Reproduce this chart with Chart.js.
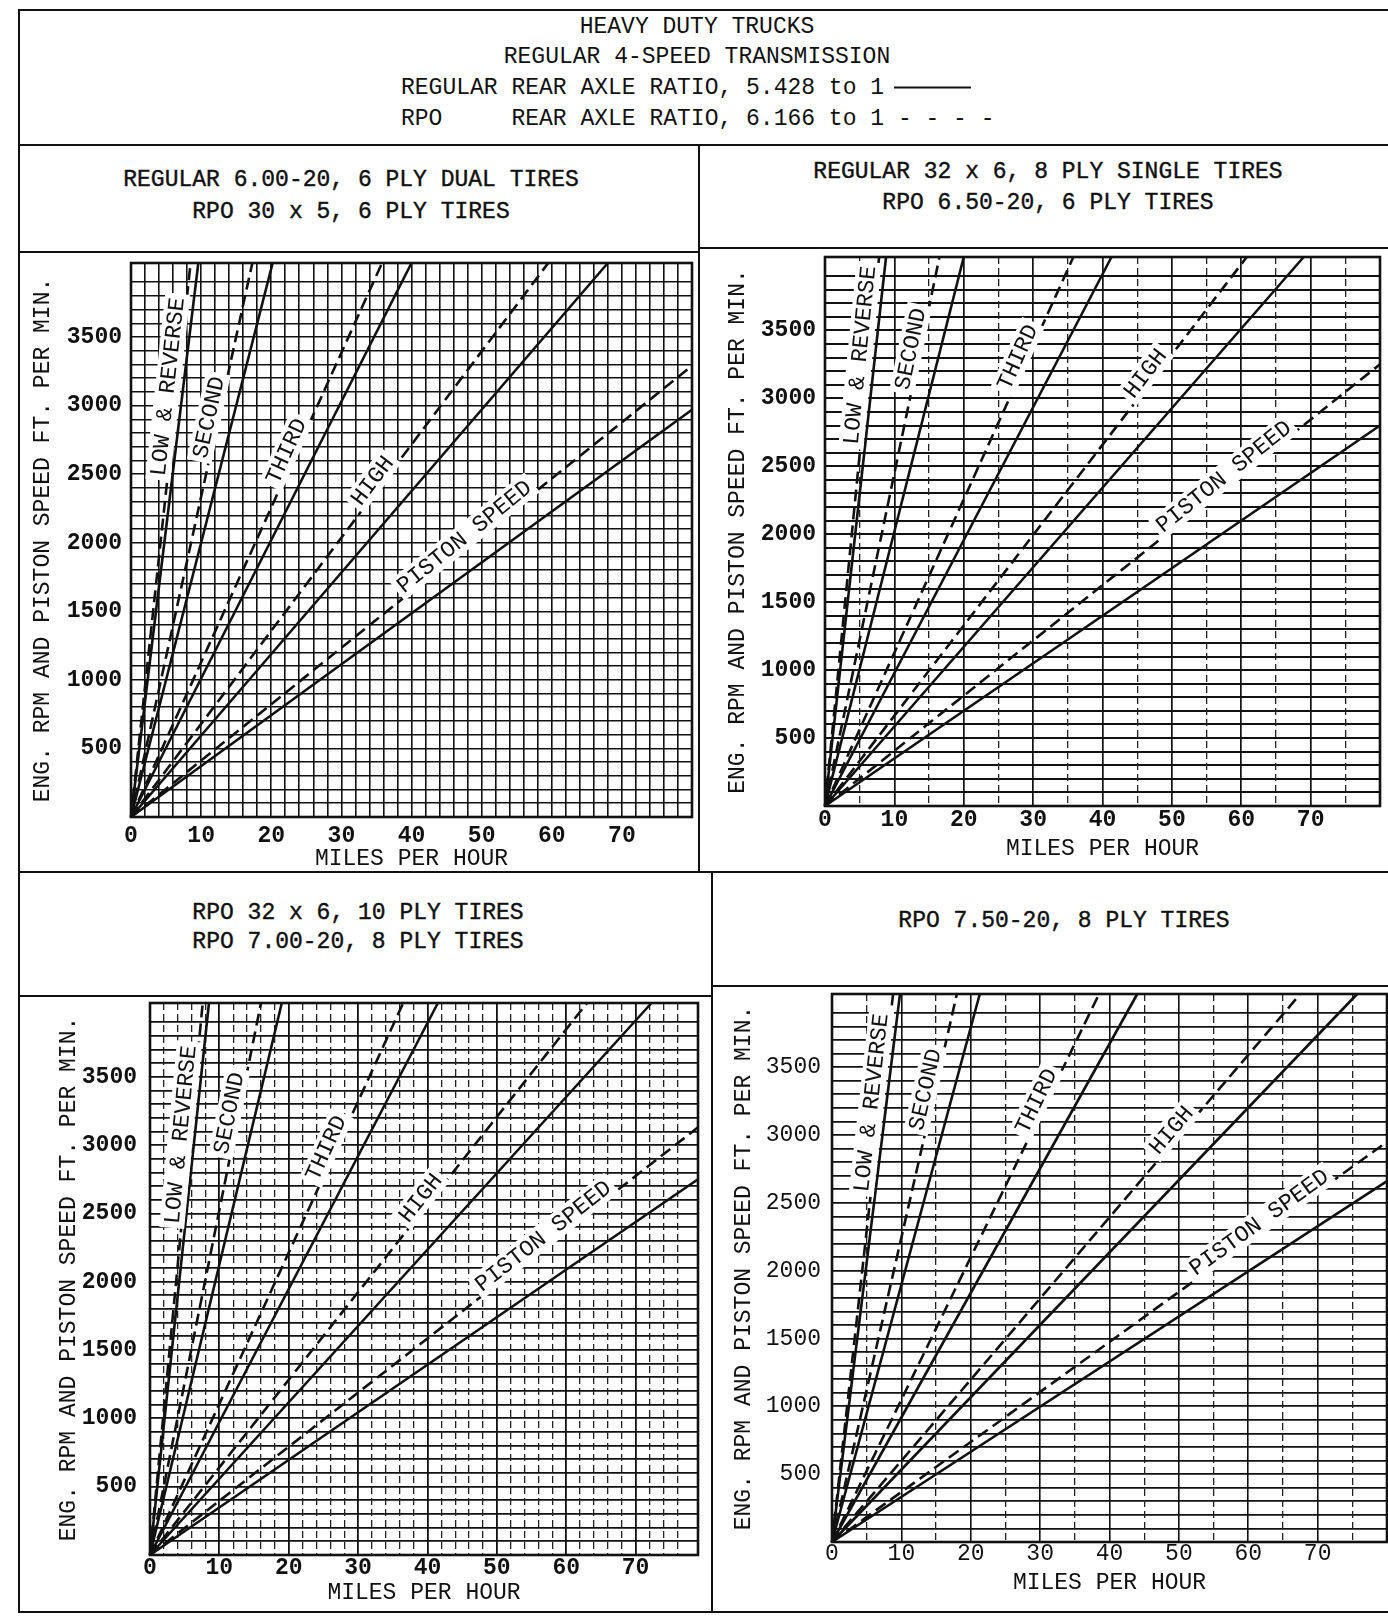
<!DOCTYPE html>
<html>
<head>
<meta charset="utf-8">
<title>Heavy Duty Trucks - engine speed charts</title>
<script src="https://cdn.jsdelivr.net/npm/chart.js@4.4.1/dist/chart.umd.min.js"></script>
<style>
  body { margin: 0; background: #fff; width: 1388px; height: 1619px; position: relative; overflow: hidden;
         font-family: "Liberation Mono", "DejaVu Sans Mono", monospace; color: #111; }
  .ln { position: absolute; background: #111; }
  .tx { position: absolute; font-size: 23px; line-height: 1; white-space: pre; transform: translate(-50%, -50%); }
  .tx.pt { -webkit-text-stroke: 0.4px #111; }
  .tl { position: absolute; font-size: 23px; line-height: 1; white-space: pre; transform: translateY(-50%); }
  .key { display: inline-block; width: 77px; border-top: 2px solid #111; vertical-align: middle; margin-left: 10px; }
  canvas { position: absolute; }
</style>
</head>
<body>

<!-- frame -->
<div class="ln" style="left:18px;top:9px;width:1370px;height:2px"></div>
<div class="ln" style="left:18px;top:9px;width:2px;height:1604px"></div>
<div class="ln" style="left:18px;top:1611px;width:1370px;height:2px"></div>
<div class="ln" style="left:18px;top:144px;width:1370px;height:2px"></div>
<div class="ln" style="left:698px;top:144px;width:2px;height:729px"></div>
<div class="ln" style="left:18px;top:871px;width:1370px;height:2px"></div>
<div class="ln" style="left:711px;top:871px;width:2px;height:742px"></div>
<div class="ln" style="left:18px;top:251px;width:681px;height:2px"></div>
<div class="ln" style="left:698px;top:247px;width:690px;height:2px"></div>
<div class="ln" style="left:18px;top:995px;width:694px;height:2px"></div>
<div class="ln" style="left:711px;top:985px;width:677px;height:2px"></div>

<!-- header -->
<div class="tx" style="left:697px;top:27px">HEAVY DUTY TRUCKS</div>
<div class="tx" style="left:697px;top:57px">REGULAR 4-SPEED TRANSMISSION</div>
<div class="tl" style="left:401px;top:88px">REGULAR REAR AXLE RATIO, 5.428 to 1<span class="key"></span></div>
<div class="tl" style="left:401px;top:119px">RPO     REAR AXLE RATIO, 6.166 to 1 - - - -</div>

<!-- panel titles -->
<div class="tx pt" style="left:351px;top:180px">REGULAR 6.00-20, 6 PLY DUAL TIRES</div>
<div class="tx pt" style="left:351px;top:212px">RPO 30 x 5, 6 PLY TIRES</div>
<div class="tx pt" style="left:1048px;top:172px">REGULAR 32 x 6, 8 PLY SINGLE TIRES</div>
<div class="tx pt" style="left:1048px;top:203px">RPO 6.50-20, 6 PLY TIRES</div>
<div class="tx pt" style="left:358px;top:913px">RPO 32 x 6, 10 PLY TIRES</div>
<div class="tx pt" style="left:358px;top:942px">RPO 7.00-20, 8 PLY TIRES</div>
<div class="tx pt" style="left:1064px;top:921px">RPO 7.50-20, 8 PLY TIRES</div>

<canvas id="tl" width="678" height="618" style="left:20px;top:253px"></canvas>
<canvas id="tr" width="688" height="622" style="left:700px;top:249px"></canvas>
<canvas id="bl" width="691" height="614" style="left:20px;top:997px"></canvas>
<canvas id="br" width="675" height="624" style="left:713px;top:987px"></canvas>

<script>
// ---- data ----
const gearNames = ['LOW & REVERSE', 'SECOND', 'THIRD', 'HIGH'];
const mphTicks = [0, 10, 20, 30, 40, 50, 60, 70];
const rpmTicks = [500, 1000, 1500, 2000, 2500, 3000, 3500];

// mph at which each gear line reaches the top of the grid
// [regular 5.428 axle (solid), RPO 6.166 axle (dashed)]
const gearMphTL = [[9.6, 8.5], [20.2, 17.3], [40.0, 35.8], [68.0, 59.5]];
const gearMphTR = [[8.8, 7.8], [20.0, 16.5], [41.3, 35.8], [69.0, 60.8]];
const gearMphBL = [[8.5, 7.6], [19.0, 16.0], [41.5, 36.5], [72.3, 63.0]];
const gearMphBR = [[9.8, 8.8], [21.3, 18.0], [44.0, 38.5], [75.7, 67.5]];

// piston speed (ft/min) where the line leaves the right edge [solid, dashed]
const pistonTL = [2970, 3290];
const pistonTR = [2800, 3250];
const pistonBL = [2750, 3130];
const pistonBR = [2660, 2950];

const FONT = '"Liberation Mono", "DejaVu Sans Mono", monospace';
const INK = '#111';
Chart.defaults.font.family = FONT;
Chart.defaults.color = INK;

// panel layout, in page pixels
const panels = [
  { id: 'tl', gears: gearMphTL, piston: pistonTL, xMax: 80, yMax: 4040,
    box: { x: 20, y: 253, w: 678, h: 618 }, area: { l: 131, r: 692, t: 263, b: 817 },
    yTitleX: 43, yGap: 9, xLabelY: 836, xTitleY: 859, tickWeight: 'bold',
    xStep: 2, xMinor: null, yStep: 100, xGridW: 1.6, yGridW: 1.6,
    labelRpm: [3130, 2900, 2640, 2410, 1990] },
  { id: 'tr', gears: gearMphTR, piston: pistonTR, xMax: 80, yMax: 4040,
    box: { x: 700, y: 249, w: 688, h: 622 }, area: { l: 825, r: 1380, t: 257, b: 806 },
    yTitleX: 738, yGap: 9, xLabelY: 820, xTitleY: 849, tickWeight: 'bold',
    xStep: 10, xMinor: 5, yStep: 100, xGridW: 1.7, yGridW: 2.0,
    labelRpm: [3310, 3350, 3275, 3140, 2370] },
  { id: 'bl', gears: gearMphBL, piston: pistonBL, xMax: 79, yMax: 4040,
    box: { x: 20, y: 997, w: 691, h: 614 }, area: { l: 150, r: 698, t: 1003, b: 1555 },
    yTitleX: 69, yGap: 13, xLabelY: 1568, xTitleY: 1593, tickWeight: 'bold',
    xStep: 10, xMinor: 2, yStep: 100, xGridW: 1.8, yGridW: 1.8,
    labelRpm: [3070, 3220, 2950, 2570, 2280] },
  { id: 'br', gears: gearMphBR, piston: pistonBR, xMax: 80, yMax: 4040,
    box: { x: 713, y: 987, w: 675, h: 624 }, area: { l: 832, r: 1387, t: 994, b: 1542 },
    yTitleX: 743.5, yGap: 11, xLabelY: 1554, xTitleY: 1583, tickWeight: 'normal',
    xStep: 10, xMinor: 5, yStep: 100, xGridW: 1.6, yGridW: 1.8,
    labelRpm: [3230, 3320, 3220, 2990, 2300] }
];

// heavy border round the plotting area
const framePlugin = {
  id: 'frame',
  afterDatasetsDraw(chart) {
    const a = chart.chartArea, ctx = chart.ctx;
    ctx.save();
    ctx.strokeStyle = INK;
    ctx.lineWidth = 2.6;
    ctx.strokeRect(a.left, a.top, a.right - a.left, a.bottom - a.top);
    ctx.restore();
  }
};

// gear names written just above the dashed lines, on a white patch
const gearLabelPlugin = {
  id: 'gearLabels',
  afterDatasetsDraw(chart, args, opts) {
    const ctx = chart.ctx, xs = chart.scales.x, ys = chart.scales.y;
    const x0 = xs.getPixelForValue(0), y0 = ys.getPixelForValue(0);
    ctx.save();
    ctx.font = '23px ' + FONT;
    ctx.textAlign = 'center';
    ctx.textBaseline = 'middle';
    opts.items.forEach(it => {
      const ang = Math.atan2(ys.getPixelForValue(it.ey) - y0, xs.getPixelForValue(it.ex) - x0);
      ctx.save();
      ctx.translate(xs.getPixelForValue(it.x), ys.getPixelForValue(it.y));
      ctx.rotate(ang);
      const w = ctx.measureText(it.text).width + 8;
      ctx.fillStyle = '#fff';
      ctx.fillRect(-w / 2, -22, w, 25);
      ctx.fillStyle = INK;
      ctx.fillText(it.text, 0, -9);
      ctx.restore();
    });
    ctx.restore();
  }
};

function lineSet(points, dashed) {
  return {
    data: points,
    showLine: true,
    pointRadius: 0,
    borderColor: INK,
    borderWidth: 2.6,
    borderDash: dashed ? [12, 6] : [],
    clip: 2
  };
}

function buildPanel(p) {
  const datasets = [];
  const items = [];
  p.gears.forEach((g, i) => {
    datasets.push(lineSet([{ x: 0, y: 0 }, { x: g[0], y: p.yMax }], false));
    datasets.push(lineSet([{ x: 0, y: 0 }, { x: g[1], y: p.yMax }], true));
    const r = p.labelRpm[i];
    items.push({ text: gearNames[i], x: g[1] * r / p.yMax, y: r, ex: g[1], ey: p.yMax });
  });
  datasets.push(lineSet([{ x: 0, y: 0 }, { x: p.xMax, y: p.piston[0] }], false));
  datasets.push(lineSet([{ x: 0, y: 0 }, { x: p.xMax, y: p.piston[1] }], true));
  const rp = p.labelRpm[4];
  items.push({ text: 'PISTON SPEED', x: p.xMax * rp / p.piston[1], y: rp, ex: p.xMax, ey: p.piston[1] });

  const yAxisW = p.area.l - p.box.x;
  const xAxisH = p.xTitleY + 11.5 - p.area.b;
  const scales = {
    x: {
      type: 'linear', position: 'bottom', min: 0, max: p.xMax,
      afterFit: s => { s.height = xAxisH; s.paddingLeft = 0; s.paddingRight = 0; },
      ticks: { stepSize: p.xStep, autoSkip: false, maxRotation: 0, color: INK,
               padding: Math.max(0, p.xLabelY - p.area.b - 11.5),
               font: { size: 23, lineHeight: 1, weight: p.tickWeight },
               callback: v => mphTicks.includes(v) ? String(v) : '' },
      grid: { color: INK, lineWidth: p.xGridW, drawTicks: false },
      border: { display: false },
      title: { display: true, text: 'MILES PER HOUR', color: INK, padding: 0,
               font: { size: 23, lineHeight: 1 } }
    },
    y: {
      type: 'linear', position: 'left', min: 0, max: p.yMax,
      afterFit: s => { s.width = yAxisW; s.paddingTop = 0; s.paddingBottom = 0; },
      ticks: { stepSize: p.yStep, autoSkip: false, color: INK, padding: p.yGap,
               font: { size: 23, lineHeight: 1, weight: p.tickWeight },
               callback: v => rpmTicks.includes(v) ? String(v) : '' },
      grid: { color: INK, lineWidth: p.yGridW, drawTicks: false },
      border: { display: false },
      title: { display: true, text: 'ENG. RPM AND PISTON SPEED FT. PER MIN.', color: INK,
               padding: { top: p.yTitleX - p.box.x - 11.5, bottom: 0 },
               font: { size: 23, lineHeight: 1 } }
    }
  };
  if (p.xMinor) {
    scales.x2 = {
      type: 'linear', position: 'top', min: 0, max: p.xMax,
      afterFit: s => { s.height = 0; s.paddingLeft = 0; s.paddingRight = 0; },
      ticks: { display: false, stepSize: p.xMinor, autoSkip: false },
      grid: { drawTicks: false, lineWidth: 1.3,
              color: c => (c.tick && c.tick.value % p.xStep !== 0) ? '#222' : 'rgba(0,0,0,0)' },
      border: { display: false, dash: [7, 4] }
    };
  }

  new Chart(document.getElementById(p.id), {
    type: 'scatter',
    data: { datasets },
    options: {
      responsive: false,
      animation: false,
      events: [],
      layout: {
        autoPadding: false,
        padding: {
          left: 0,
          top: p.area.t - p.box.y,
          right: p.box.x + p.box.w - p.area.r,
          bottom: p.box.y + p.box.h - p.area.b - xAxisH
        }
      },
      scales,
      plugins: {
        legend: { display: false },
        tooltip: { enabled: false },
        gearLabels: { items }
      }
    },
    plugins: [framePlugin, gearLabelPlugin]
  });
}

panels.forEach(buildPanel);
</script>
</body>
</html>
